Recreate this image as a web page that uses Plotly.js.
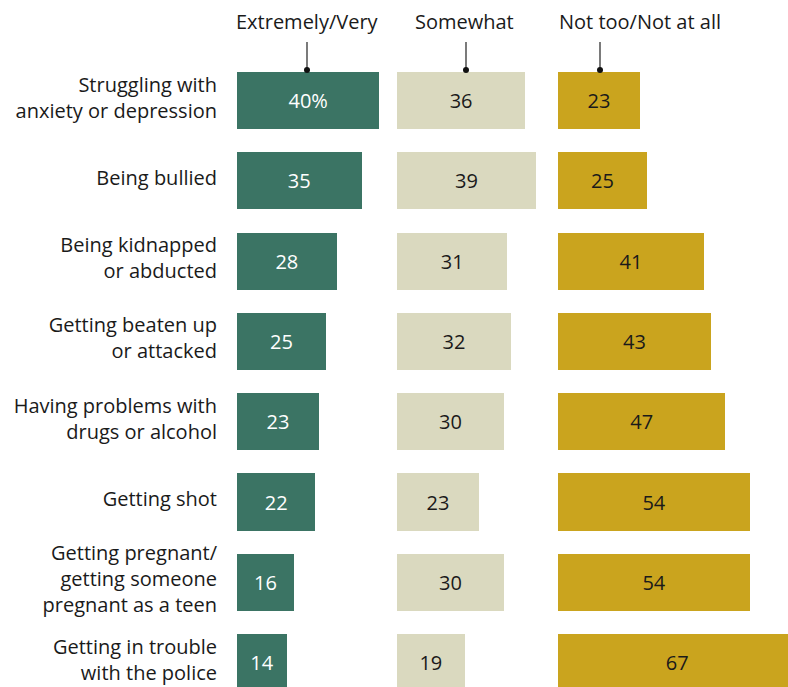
<!DOCTYPE html>
<html>
<head>
<meta charset="utf-8">
<script src="https://cdn.plot.ly/plotly-3.0.1.min.js"></script>
<style>html,body{margin:0;padding:0;background:#fff;}#chart{width:788px;height:687px;}</style>
</head>
<body>
<div id="chart"></div>
<script>
const categories = [
  "Struggling with<br>anxiety or depression",
  "Being bullied",
  "Being kidnapped<br>or abducted",
  "Getting beaten up<br>or attacked",
  "Having problems with<br>drugs or alcohol",
  "Getting shot",
  "Getting pregnant/<br>getting someone<br>pregnant as a teen",
  "Getting in trouble<br>with the police"
];
const extremelyVery = [40, 35, 28, 25, 23, 22, 16, 14];
const somewhat = [36, 39, 31, 32, 30, 23, 30, 19];
const notTooNotAtAll = [23, 25, 41, 43, 47, 54, 54, 67];
const seriesNames = ["Extremely/Very", "Somewhat", "Not too/Not at all"];
const colors = ["#3b7464", "#dad9bf", "#caa41e"];
const textColors = ["#ffffff", "#1a1a1a", "#1a1a1a"];

const W = 788, H = 687;
const mL = 237, mT = 60, mR = 0, mB = 0;
const plotW = W - mL - mR, plotH = H - mT - mB;
const pxPerUnit = 3.56;
const rowPitch = 80.3, firstRowY = 100.5;
const cols = [[237, 387], [397, 547], [558, 788]];
const idx = categories.map((_, i) => i);
const font = "Open Sans, Liberation Sans, Arial, sans-serif";
const fs = 20;

const allSeries = [extremelyVery, somewhat, notTooNotAtAll];
const traces = allSeries.map((vals, k) => ({
  type: "bar",
  orientation: "h",
  x: vals,
  y: idx,
  xaxis: k === 0 ? "x" : "x" + (k + 1),
  yaxis: "y",
  width: 0.71,
  marker: {color: colors[k], line: {width: 0}},
  text: vals.map((v, i) => (k === 0 && i === 0) ? v + "%" : String(v)),
  textposition: "inside",
  insidetextanchor: "middle",
  textangle: 0,
  textfont: {family: font, size: fs, color: textColors[k]},
  constraintext: "none",
  cliponaxis: true,
  hoverinfo: "skip",
  showlegend: false
}));

const layout = {
  width: W, height: H,
  margin: {l: mL, r: mR, t: mT, b: mB, pad: 0},
  paper_bgcolor: "#fff", plot_bgcolor: "#fff",
  font: {family: font, size: fs, color: "#1a1a1a"},
  bargap: 0,
  showlegend: false,
  yaxis: {
    range: [(H - mB - firstRowY) / rowPitch, (mT - firstRowY) / rowPitch],
    tickmode: "array", tickvals: idx, ticktext: categories,
    showgrid: false, zeroline: false, showline: false, ticks: "",
    ticklabelstandoff: 19,
    ticklabelshift: 3,
    ticklabeloverflow: "allow",
    tickfont: {family: font, size: fs, color: "#1a1a1a"}
  },
  annotations: [],
  shapes: []
};
cols.forEach((c, k) => {
  const key = k === 0 ? "xaxis" : "xaxis" + (k + 1);
  layout[key] = {
    domain: [(c[0] - mL) / plotW, (c[1] - mL) / plotW],
    range: [0, (c[1] - c[0]) / pxPerUnit],
    showgrid: false, zeroline: false, showline: false, showticklabels: false, ticks: "",
    anchor: "y"
  };
});
const headerX = [307, 464, 640];
const pointerX = [307, 466, 600];
seriesNames.forEach((name, k) => {
  layout.annotations.push({
    xref: "paper", yref: "paper",
    x: (headerX[k] - mL) / plotW, y: 1 + (mT - 21) / plotH,
    xanchor: "center", yanchor: "middle",
    text: name, showarrow: false,
    font: {family: font, size: fs, color: "#1a1a1a"}
  });
  const xr = k === 0 ? "x" : "x" + (k + 1);
  const xv = (pointerX[k] - cols[k][0]) / pxPerUnit;
  layout.shapes.push({
    type: "line", xref: xr, yref: "paper",
    x0: xv, x1: xv, y0: 1 + (mT - 42) / plotH, y1: 1 - (70 - mT) / plotH,
    line: {color: "#222", width: 1.2}
  });
  layout.shapes.push({
    type: "circle", xref: xr, yref: "paper",
    xsizemode: "pixel", ysizemode: "pixel",
    xanchor: xv, yanchor: 1 - (70 - mT) / plotH,
    x0: -3, x1: 3, y0: -3, y1: 3,
    fillcolor: "#111", line: {width: 0}
  });
});

Plotly.newPlot("chart", traces, layout, {staticPlot: true, displayModeBar: false});
</script>
</body>
</html>
